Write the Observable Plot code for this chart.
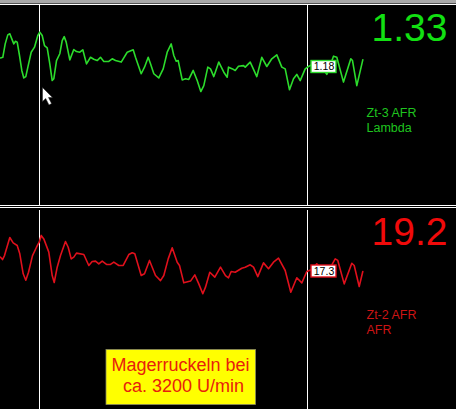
<!DOCTYPE html>
<html>
<head>
<meta charset="utf-8">
<script src="https://cdn.jsdelivr.net/npm/d3@7"></script>
<script src="https://cdn.jsdelivr.net/npm/@observablehq/plot@0.6"></script>
<style>
html,body{margin:0;padding:0;background:#000;overflow:hidden}
svg{display:block}
</style>
</head>
<body>
<div id="chart"></div>
<script>
const lambdaT = [0,2.3,4.7,7.3,9.3,11.7,13.3,15,16.7,19,21.3,23.3,25.3,27.7,30.7,34,37.3,39.3,41.7,44,46.7,49.3,51.7,53.3,56,59.3,61.7,63.7,65.7,69.3,73.3,76,79.3,82.3,86,90,93.3,96.7,100,103.3,108.3,111.7,115,120.7,126.7,132.7,135,140.7,144,147.7,150,153.3,158.3,162.7,166.7,170.7,173.3,175.7,177.7,181.7,185,188.3,192.7,196.7,200.3,203.3,207.3,210,213.3,218.3,223.3,226.7,
  228,232,234.7,238,243,244.7,249.7,252,256.3,261.3,266.3,271.3,276.3,281.3,284.7,289,293,296.3,299.7,304.7,308,313,318,326.3,333,336.3,343,350.3,352,356.3,362.3];
const lambdaValues = [1.219,1.222,1.283,1.324,1.329,1.301,1.283,1.295,1.291,1.230,1.162,1.128,1.134,1.184,1.245,1.268,1.321,1.336,1.321,1.275,1.265,1.192,1.116,1.124,1.207,1.238,1.298,1.316,1.291,1.210,1.257,1.248,1.245,1.256,1.192,1.222,1.213,1.207,1.222,1.203,1.203,1.215,1.207,1.200,1.245,1.256,1.222,1.147,1.177,1.222,1.192,1.147,1.128,1.169,1.245,1.283,1.230,1.204,1.207,1.119,1.124,1.121,1.162,1.116,1.066,1.093,1.177,1.169,1.134,1.200,1.154,1.131,
  1.177,1.169,1.162,1.181,1.184,1.177,1.200,1.177,1.134,1.222,1.180,1.215,1.233,1.177,1.169,1.074,1.124,1.144,1.116,1.169,1.180,1.192,1.200,1.144,1.227,1.222,1.109,1.215,1.207,1.093,1.210];
const afrT = [0,2,4,9.3,12.7,16.7,19.3,22.7,25.3,28,32,36,38.7,40.7,43.3,48.3,51.7,53.7,56.7,60,65,67.7,70.7,73.3,76,83.3,88.3,91.7,95,98.3,101.7,106,110,113.3,118.3,122.7,128.3,131.7,134.3,140.7,144,149,151.7,155,160,163.3,167.7,171.7,176.7,179,183.3,190,194.3,198.3,202.3,205,209.3,214.3,220,225,228,
  230.7,234.7,241.3,244.7,249.7,253,257.3,263,268,273,278,284.7,290.3,296.3,301.3,306.3,311.3,316.3,326.3,334.7,337.3,343.7,351.3,353.7,358.7,362.3];
const afrValues = [18.07,17.93,18.16,19.20,18.89,18.74,18.26,17.11,16.74,17.20,18.16,18.64,18.93,19.32,19.12,18.36,17.01,16.61,17.49,18.16,18.97,18.64,17.97,18.07,18.30,18.22,17.59,17.82,17.84,17.68,17.84,17.65,17.65,17.78,17.59,17.59,18.22,18.32,18.26,17.01,17.11,17.88,17.49,17.01,16.72,17.01,17.97,18.61,17.78,17.59,16.59,16.69,17.05,16.53,15.96,16.34,17.20,16.92,17.49,17.01,16.88,
  17.24,17.20,17.43,17.49,17.63,17.49,16.95,17.74,17.40,17.78,18.01,17.30,16.05,16.88,16.59,17.24,17.36,17.68,17.11,17.97,17.88,16.53,17.72,17.59,16.38,17.24];
const cursors = [39, 307];
const green = "#2cdc2c", greenText = "#1fc41f", bigGreen = "#12e012";
const red = "#e0101c", redText = "#cc1414", bigRed = "#f00a0a";
const W = 456, font = "Liberation Sans, Arial, sans-serif";

const arrow = {draw(c){
  c.moveTo(0,0); c.lineTo(0,14); c.lineTo(3.2,11); c.lineTo(6.5,17.5); c.lineTo(9,16); c.lineTo(6,10); c.lineTo(10,10); c.closePath();
}};
const txt = (s, x, y, size, fill, anchor="start") => Plot.text([s], {
  frameAnchor:"top-left", dx:x, dy:y, text:d=>d, fontSize:size, fill, textAnchor:anchor,
  lineAnchor:"bottom", fontFamily:font
});

function panel({T,V,h,domain,color,big,bigFill,bigY,l1,l2,lY,lFill,tag,tagY,tagX,under,over}){
  const data = T.map((t,i)=>({t,v:V[i]}));
  const yAt = px => domain[0] + (domain[1]-domain[0]) * px / h;
  return Plot.plot({
    width:W, height:h, margin:0,
    style:{background:"#000", display:"block"},
    x:{domain:[0,W], range:[0,W], axis:null},
    y:{domain, range:[0,h], axis:null},
    marks:[
      ...under(yAt),
      Plot.ruleX(cursors,{stroke:"#fff",strokeWidth:1,y1:yAt(5),y2:yAt(h)}),
      Plot.line(data,{x:"t",y:"v",stroke:color,strokeWidth:1.6,curve:"linear"}),
      Plot.rect([tag],{x1:tagX[0],x2:tagX[1],y1:yAt(tagY[0]),y2:yAt(tagY[1]),fill:"#fff",stroke:color,strokeWidth:1.4}),
      Plot.text([tag],{x:(tagX[0]+tagX[1])/2,y:yAt((tagY[0]+tagY[1])/2),text:d=>d,fill:"#000",fontSize:10.5,fontFamily:font}),
      txt(big,447,bigY,39,bigFill,"end"),
      txt(l1,366,lY[0],12.5,lFill),
      txt(l2,366,lY[1],12.5,lFill),
      ...over(yAt)
    ]
  });
}

const upperPanel = panel({
  T:lambdaT, V:lambdaValues, h:205, domain:[1.4803,0.5475], color:green,
  big:"1.33", bigFill:bigGreen, bigY:40.5, l1:"Zt-3 AFR", l2:"Lambda", lY:[116,131], lFill:greenText,
  tag:"1.18", tagX:[311,336], tagY:[60.5,72.5],
  under:yAt=>[
    Plot.rect([0],{x1:0,x2:W,y1:yAt(0),y2:yAt(3.5),fill:"#a8a8a8"}),
    Plot.ruleY([yAt(4)],{stroke:"#fff",strokeWidth:1})
  ],
  over:yAt=>[
    Plot.dot([0],{x:42,y:yAt(87),symbol:arrow,fill:"#fff",stroke:"#222",strokeWidth:.5})
  ]
});
const lowerPanel = panel({
  T:afrT, V:afrValues, h:204, domain:[21.044,9.294], color:red,
  big:"19.2", bigFill:bigRed, bigY:39, l1:"Zt-2 AFR", l2:"AFR", lY:[113,128], lFill:redText,
  tag:"17.3", tagX:[311,336], tagY:[60,72],
  under:yAt=>[
    Plot.ruleY([yAt(0),yAt(2)],{stroke:"#fff",strokeWidth:1})
  ],
  over:yAt=>[
    Plot.rect([0],{x1:106,x2:255.5,y1:yAt(144.5),y2:yAt(199.5),fill:"#ffff00",stroke:"#8a8a60",strokeWidth:.8}),
    txt("Magerruckeln bei",180,165,18,"#e8200c","middle"),
    txt("ca. 3200 U/min",183,186,18,"#e8200c","middle")
  ]
});
document.getElementById("chart").append(upperPanel, lowerPanel);
</script>
</body>
</html>
